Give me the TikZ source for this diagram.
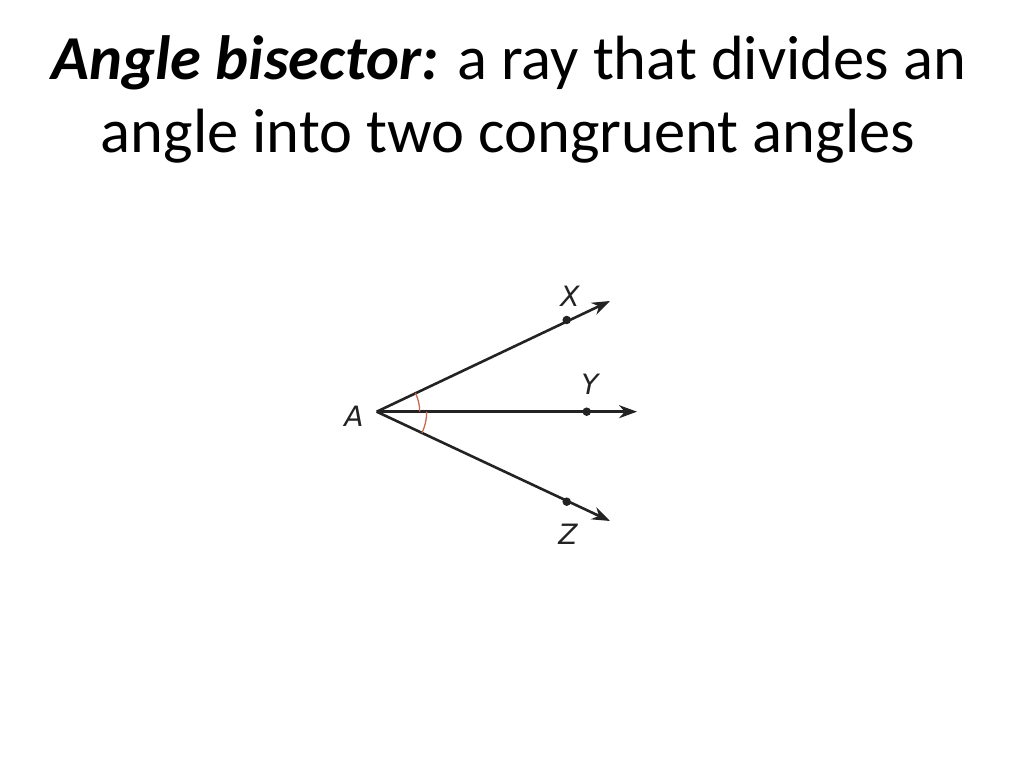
\documentclass[tikz,border=0pt]{standalone}
\usepackage{fontspec}
\setmainfont{Carlito}
\newfontfamily\labelfont{DejaVu Sans}
\usetikzlibrary{arrows.meta}
\definecolor{raycol}{RGB}{35,35,35}
\definecolor{arccol}{RGB}{200,105,80}
\tikzset{
  title/.style={anchor=base, inner sep=0pt, font=\fontsize{62.5}{75}\selectfont},
  ray/.style={draw=raycol, line width=2.6pt, -{Stealth[length=18pt,width=13pt]}},
  pt/.style={circle, fill=raycol, inner sep=0pt, minimum size=8.5pt},
  lbl/.style={font=\labelfont\itshape\fontsize{28}{34}\selectfont, inner sep=0pt, text=raycol},
  marc/.style={draw=arccol, line width=1.3pt}
}
\begin{document}
\begin{tikzpicture}[x=1pt,y=1pt]
\useasboundingbox (0,0) rectangle (1024,768);
\node[title] (t1) at (509,688) {\textbf{\textit{Angle bisector:}} a ray that divides an};
\node[title] (t2) at (508,615) {angle into two congruent angles};
\coordinate (A) at (376.7,356.3);
\node[pt] (X) at (566.7,448) {};
\node[pt] (Y) at (586.7,356.3) {};
\node[pt] (Z) at (566.7,266.3) {};
\coordinate (Xe) at (610,467);
\coordinate (Ye) at (637,356.3);
\coordinate (Ze) at (610,247);
\draw[ray] (A) -- (Xe);
\draw[ray] (A) -- (Ye);
\draw[ray] (A) -- (Ze);
\draw[marc] ([shift={(25.8:43)}]A) arc (25.8:0:43);
\draw[marc] ([shift={(0:50)}]A) arc (0:-25.3:50);
\node[lbl] (lX) at (570,472) {X};
\node[lbl] (lY) at (590,384) {Y};
\node[lbl] (lZ) at (568,234) {Z};
\node[lbl] (lA) at (354,352) {A};
\end{tikzpicture}
\end{document}
